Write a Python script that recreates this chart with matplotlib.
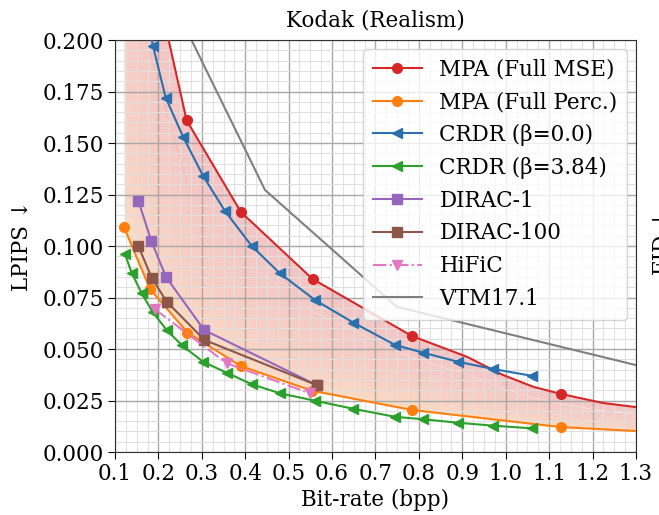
import numpy as np
import matplotlib
matplotlib.use("Agg")
from matplotlib import pyplot as plt
from matplotlib.ticker import MultipleLocator
from matplotlib.colors import to_rgb

plt.rcParams['font.family'] = ['DejaVu Serif']

# MPA curves (markers at the first 7 rate points)
mse_x = [0.121, 0.181, 0.265, 0.390, 0.555, 0.784, 0.910, 0.994, 1.063, 1.127, 1.224, 1.30]
mse_y = [0.330, 0.240, 0.161, 0.1165, 0.084, 0.0563, 0.0463, 0.0374, 0.0317, 0.0282, 0.0238, 0.0218]
mse_marks = [0, 1, 2, 3, 4, 5, 9]
perc_x = [0.121, 0.181, 0.267, 0.390, 0.553, 0.784, 1.127, 1.30]
perc_y = [0.109, 0.079, 0.058, 0.0417, 0.0298, 0.0204, 0.0121, 0.0102]
perc_marks = [0, 1, 2, 3, 4, 5, 6]

crdr0_x = [0.1615, 0.1875, 0.2168, 0.2574, 0.303, 0.3533, 0.415, 0.480, 0.5606, 0.649, 0.745, 0.810, 0.8905, 0.971, 1.0596]
crdr0_y = [0.226, 0.197, 0.172, 0.1528, 0.134, 0.117, 0.100, 0.0867, 0.0738, 0.0628, 0.052, 0.0482, 0.0438, 0.0403, 0.037]
crdr384_x = [0.123, 0.1384, 0.1615, 0.1867, 0.219, 0.2536, 0.303, 0.357, 0.415, 0.480, 0.5606, 0.649, 0.745, 0.810, 0.8905, 0.971, 1.0596]
crdr384_y = [0.0961, 0.087, 0.077, 0.068, 0.0592, 0.0519, 0.0438, 0.0385, 0.0329, 0.0285, 0.0249, 0.021, 0.0171, 0.0159, 0.0142, 0.0128, 0.0115]

dirac1_x = [0.1538, 0.1840, 0.2180, 0.3055, 0.5645]
dirac1_y = [0.1220, 0.1022, 0.0848, 0.0592, 0.0325]
dirac100_x = [0.1538, 0.1845, 0.2190, 0.3060, 0.5645]
dirac100_y = [0.1000, 0.0846, 0.0730, 0.0544, 0.0325]

hific_x = [0.192, 0.357, 0.549]
hific_y = [0.0693, 0.0431, 0.0285]

vtm_x = [0.16, 0.4455, 0.749, 1.30]
vtm_y = [0.250, 0.1272, 0.0705, 0.0422]

fig = plt.figure(figsize=(6.59, 5.15), dpi=100)
ax = fig.add_axes([0.1745, 0.1223, 0.7905, 0.8])

# shaded band between the two MPA curves, red near MSE -> orange near Perc.
grid_x = np.linspace(perc_x[0], 1.3, 300)
lo = np.interp(grid_x, perc_x, perc_y)
hi = np.interp(grid_x, mse_x, mse_y)
c_lo = np.array(to_rgb('#ff8c1a'))
c_hi = np.array(to_rgb('#d62728'))
n = 24
for i in range(n):
    t0, t1 = i / n, (i + 1) / n
    tm = ((t0 + t1) / 2) ** 0.45
    col = c_lo * (1 - tm) + c_hi * tm
    ax.fill_between(grid_x, lo + (hi - lo) * t0, lo + (hi - lo) * t1,
                    color=col, alpha=0.27, lw=0, zorder=0.8)

lw = 1.5
ms = 7
ax.plot(mse_x, mse_y, '-o', color='#d62728', lw=lw, ms=ms, markevery=mse_marks, label='MPA (Full MSE)', zorder=3)
ax.plot(perc_x, perc_y, '-o', color='#ff7f0e', lw=lw, ms=ms, markevery=perc_marks, label='MPA (Full Perc.)', zorder=3)
ax.plot(crdr0_x, crdr0_y, '-<', color='#2a70ad', lw=lw, ms=ms, label='CRDR (β=0.0)', zorder=3)
ax.plot(crdr384_x, crdr384_y, '-<', color='#2ca02c', lw=lw, ms=ms, label='CRDR (β=3.84)', zorder=3)
ax.plot(dirac1_x, dirac1_y, '-s', color='#9467bd', lw=lw, ms=ms, label='DIRAC-1', zorder=3)
ax.plot(dirac100_x, dirac100_y, '-s', color='#8c564b', lw=lw, ms=ms, label='DIRAC-100', zorder=3)
ax.plot(hific_x, hific_y, '-.v', color='#e377c2', lw=lw, ms=ms, label='HiFiC', zorder=3)
ax.plot(vtm_x, vtm_y, '-', color='#7f7f7f', lw=lw, label='VTM17.1', zorder=2.5)

ax.set_xlim(0.1, 1.3)
ax.set_ylim(0.0, 0.2)
ax.xaxis.set_major_locator(MultipleLocator(0.1))
ax.yaxis.set_major_locator(MultipleLocator(0.025))
ax.xaxis.set_minor_locator(MultipleLocator(0.025))
ax.yaxis.set_minor_locator(MultipleLocator(0.005))
ax.yaxis.set_major_formatter(matplotlib.ticker.FormatStrFormatter('%.3f'))
ax.xaxis.set_major_formatter(matplotlib.ticker.FormatStrFormatter('%.1f'))
ax.tick_params(which='major', labelsize=15.5, length=5, pad=3)
ax.tick_params(which='minor', length=0)
ax.grid(which='major', color='#a8a8a8', lw=1.0)
ax.grid(which='minor', color='#e0e0e0', lw=0.8)
for s in ax.spines.values():
    s.set_color('#333333')

ax.set_title('Kodak (Realism)', fontsize=15.5, pad=10)
ax.set_xlabel('Bit-rate (bpp)', fontsize=15.5, labelpad=3)
ax.set_ylabel('LPIPS ↓', fontsize=15.5, labelpad=7)

ax.legend(loc='upper right', fontsize=15.5, labelspacing=0.5, handlelength=2.3,
          handletextpad=0.8, borderaxespad=0.4, borderpad=0.45, framealpha=0.8)

# neighbouring subplot label, clipped at the edge
fig.text(1.006, 0.53, 'FID ↓', rotation=90, ha='center', va='center', fontsize=15.5)

fig.savefig('out.png', dpi=100)
